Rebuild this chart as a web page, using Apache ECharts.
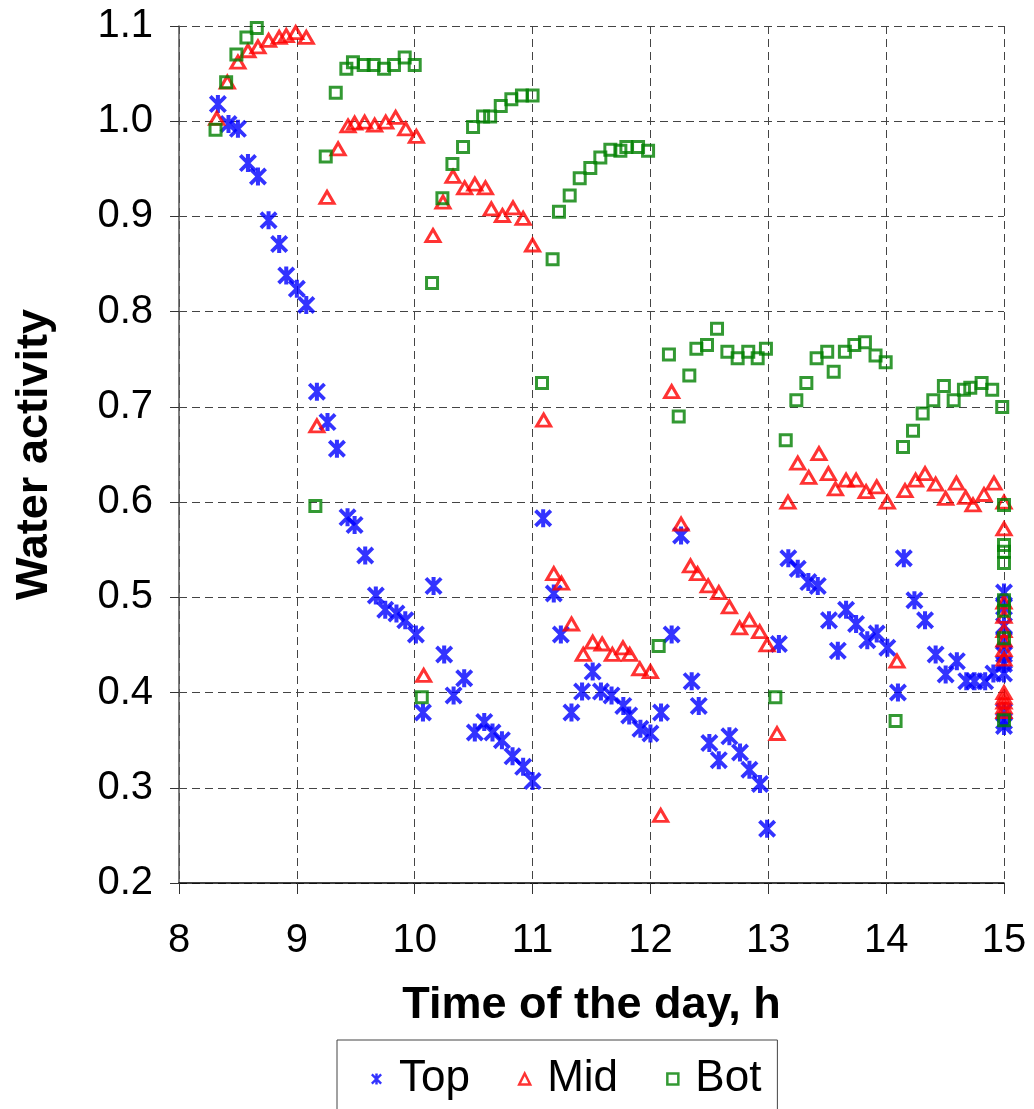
<!DOCTYPE html>
<html>
<head>
<meta charset="utf-8">
<script src="https://cdn.jsdelivr.net/npm/echarts@6/dist/echarts.min.js"></script>
<style>
  html, body { margin: 0; padding: 0; background: #fff; }
  #chart { width: 1034px; height: 1109px; }
</style>
</head>
<body>
<div id="chart"></div>
<script>
// time of the day (h) and water activity for each layer
var topHours = [8.33, 8.42, 8.50, 8.585, 8.67, 8.76, 8.85, 8.91, 9.00, 9.08, 9.17, 9.26, 9.34, 9.43, 9.49, 9.58, 9.67, 9.75, 9.845, 9.92,
  10.01, 10.07, 10.16, 10.25, 10.33, 10.42, 10.51, 10.59, 10.66, 10.74, 10.83, 10.92, 11.00,
  11.09, 11.18, 11.24, 11.33, 11.42, 11.51, 11.58, 11.67, 11.77, 11.82, 11.915, 12.00,
  12.09, 12.18, 12.26, 12.35, 12.41, 12.50, 12.58, 12.67, 12.76, 12.84, 12.93, 12.99,
  13.09, 13.17, 13.25, 13.34, 13.42, 13.515, 13.59, 13.66, 13.745, 13.84, 13.92, 14.01,
  14.10, 14.15, 14.24, 14.33, 14.42, 14.505, 14.60, 14.68, 14.75, 14.84, 14.91,
  15, 15, 15, 15, 15, 15, 15, 15, 15, 15];
var topValues = [1.018, 0.997, 0.992, 0.956, 0.942, 0.896, 0.871, 0.838, 0.824, 0.807, 0.716, 0.684, 0.656, 0.584, 0.576, 0.544, 0.502, 0.487, 0.483, 0.476,
  0.461, 0.379, 0.512, 0.440, 0.397, 0.415, 0.358, 0.369, 0.358, 0.350, 0.333, 0.322, 0.307,
  0.583, 0.504, 0.461, 0.379, 0.401, 0.422, 0.401, 0.397, 0.386, 0.376, 0.362, 0.357,
  0.379, 0.461, 0.565, 0.412, 0.386, 0.347, 0.329, 0.354, 0.337, 0.319, 0.304, 0.257,
  0.451, 0.541, 0.530, 0.516, 0.512, 0.476, 0.444, 0.487, 0.472, 0.455, 0.462, 0.447,
  0.400, 0.541, 0.497, 0.476, 0.440, 0.419, 0.433, 0.412, 0.412, 0.412, 0.420,
  0.505, 0.490, 0.470, 0.455, 0.440, 0.430, 0.420, 0.380, 0.370, 0.365];

var midHours = [8.32, 8.41, 8.50, 8.585, 8.67, 8.76, 8.85, 8.91, 8.99, 9.08, 9.17, 9.256, 9.35, 9.434, 9.49, 9.575, 9.66, 9.754, 9.838, 9.924,
  10.014, 10.076, 10.155, 10.24, 10.325, 10.424, 10.51, 10.60, 10.65, 10.744, 10.834, 10.92, 11.0,
  11.094, 11.18, 11.245, 11.33, 11.43, 11.51, 11.59, 11.677, 11.767, 11.824, 11.91, 12.0,
  12.087, 12.18, 12.26, 12.34, 12.40, 12.49, 12.58, 12.67, 12.757, 12.84, 12.927, 12.99,
  13.074, 13.167, 13.25, 13.343, 13.43, 13.51, 13.57, 13.66, 13.745, 13.83, 13.92, 14.01,
  14.092, 14.16, 14.25, 14.33, 14.42, 14.505, 14.596, 14.675, 14.737, 14.83, 14.915,
  15, 15, 15, 15, 15, 15, 15, 15, 15, 15, 15, 15, 15];
var midValues = [1.003, 1.041, 1.062, 1.074, 1.078, 1.085, 1.088, 1.090, 1.093, 1.088, 0.680, 0.920, 0.971, 0.995, 0.998, 0.999, 0.996, 0.999, 1.004, 0.992,
  0.984, 0.418, 0.880, 0.915, 0.942, 0.930, 0.934, 0.930, 0.908, 0.901, 0.909, 0.898, 0.870,
  0.686, 0.525, 0.515, 0.472, 0.440, 0.453, 0.451, 0.440, 0.447, 0.440, 0.425, 0.422,
  0.271, 0.716, 0.577, 0.533, 0.525, 0.512, 0.505, 0.490, 0.468, 0.476, 0.464, 0.450,
  0.357, 0.600, 0.641, 0.626, 0.651, 0.630, 0.614, 0.623, 0.623, 0.611, 0.616, 0.600,
  0.433, 0.612, 0.623, 0.630, 0.619, 0.604, 0.620, 0.605, 0.597, 0.608, 0.620,
  0.600, 0.572, 0.495, 0.480, 0.465, 0.455, 0.445, 0.435, 0.400, 0.395, 0.390, 0.385, 0.380];

var botHours = [8.31, 8.40, 8.487, 8.572, 8.66, 9.157, 9.245, 9.33, 9.42, 9.476, 9.567, 9.652, 9.74, 9.824, 9.915, 10.0,
  10.06, 10.147, 10.235, 10.32, 10.41, 10.495, 10.58, 10.64, 10.73, 10.82, 10.91, 11.0,
  11.08, 11.17, 11.224, 11.315, 11.40, 11.49, 11.575, 11.66, 11.745, 11.796, 11.895, 11.98,
  12.07, 12.157, 12.24, 12.33, 12.39, 12.48, 12.565, 12.653, 12.74, 12.83, 12.91, 12.98,
  13.06, 13.148, 13.238, 13.323, 13.41, 13.50, 13.555, 13.65, 13.73, 13.82, 13.91, 13.996,
  14.08, 14.143, 14.228, 14.31, 14.40, 14.49, 14.573, 14.66, 14.714, 14.81, 14.90, 14.985,
  15, 15, 15, 15, 15, 15, 15, 15];
var botValues = [0.991, 1.041, 1.070, 1.088, 1.098, 0.596, 0.963, 1.030, 1.055, 1.062, 1.059, 1.059, 1.055, 1.059, 1.067, 1.059,
  0.395, 0.830, 0.919, 0.955, 0.973, 0.994, 1.005, 1.005, 1.016, 1.023, 1.027, 1.027,
  0.725, 0.855, 0.905, 0.922, 0.940, 0.951, 0.962, 0.970, 0.969, 0.973, 0.973, 0.969,
  0.449, 0.755, 0.690, 0.733, 0.761, 0.765, 0.782, 0.758, 0.751, 0.758, 0.751, 0.761,
  0.395, 0.665, 0.707, 0.725, 0.751, 0.758, 0.737, 0.758, 0.765, 0.768, 0.754, 0.747,
  0.370, 0.658, 0.675, 0.693, 0.707, 0.722, 0.707, 0.718, 0.720, 0.725, 0.718, 0.700,
  0.597, 0.555, 0.548, 0.536, 0.497, 0.486, 0.457, 0.371];

var seriesNames = ['Top', 'Mid', 'Bot'];

function pairs(xs, ys) {
  return xs.map(function (x, i) { return [x, ys[i]]; });
}

// asterisk: vertical bar plus an X
var asterisk = 'path://M-1.8,-8 L1.8,-8 L1.8,8 L-1.8,8 Z M-8,-5.6 L-5.6,-8 L8,5.6 L5.6,8 Z M5.6,-8 L8,-5.6 L-5.6,8 L-8,5.6 Z';
var font = '"Liberation Sans", Arial, sans-serif';

var chart = echarts.init(document.getElementById('chart'));
var option = {
  animation: false,
  backgroundColor: '#fff',
  grid: { left: 179, right: 30, top: 26, bottom: 226 },
  legend: {
    data: [
      { name: 'Top', icon: asterisk, itemStyle: { color: '#0000ff', borderWidth: 0 } },
      { name: 'Mid', icon: 'triangle', itemStyle: { color: 'rgba(0,0,0,0)', borderColor: '#ff0000', borderWidth: 2.5 } },
      { name: 'Bot', icon: 'rect', itemStyle: { color: 'rgba(0,0,0,0)', borderColor: '#008000', borderWidth: 2.5 } }
    ],
    left: 337,
    top: 1040,
    itemWidth: 11,
    itemHeight: 11,
    itemGap: 48,
    padding: [17, 16, 40, 34],
    borderColor: '#444',
    borderWidth: 1,
    textStyle: { fontFamily: font, fontSize: 44, color: '#000', padding: [0, 0, 0, 12] }
  },
  xAxis: {
    type: 'value',
    min: 8, max: 15, interval: 1,
    name: 'Time of the day, h',
    nameLocation: 'middle',
    nameGap: 100,
    nameTextStyle: { fontFamily: font, fontSize: 45, fontWeight: 'bold', color: '#000' },
    axisLine: { onZero: false, lineStyle: { color: '#000', width: 1.5 } },
    axisTick: { show: true, inside: false, length: 11, lineStyle: { color: '#333' } },
    axisLabel: { fontFamily: font, fontSize: 40, color: '#000', margin: 38 },
    splitLine: { show: true, lineStyle: { color: '#444', width: 1, type: [8, 5] } }
  },
  yAxis: {
    type: 'value',
    min: 0.2, max: 1.1, interval: 0.1,
    name: 'Water activity',
    nameLocation: 'middle',
    nameGap: 122,
    nameTextStyle: { fontFamily: font, fontSize: 45, fontWeight: 'bold', color: '#000' },
    axisLine: { show: true, lineStyle: { color: '#555', width: 1.5 } },
    axisTick: { show: true, inside: false, length: 9, lineStyle: { color: '#333' } },
    axisLabel: {
      fontFamily: font, fontSize: 40, color: '#000', margin: 26,
      formatter: function (v) { return v.toFixed(1); }
    },
    splitLine: { show: true, lineStyle: { color: '#444', width: 1, type: [8, 5] } }
  },
  series: [
    {
      name: seriesNames[0], type: 'scatter',
      symbol: asterisk, symbolSize: 18,
      itemStyle: { color: '#0000ff' },
      emphasis: { disabled: true },
      data: pairs(topHours, topValues)
    },
    {
      name: seriesNames[1], type: 'scatter',
      symbol: 'triangle', symbolSize: [14, 12],
      itemStyle: { color: 'rgba(0,0,0,0)', borderColor: '#ff0000', borderWidth: 3 },
      emphasis: { disabled: true },
      data: pairs(midHours, midValues)
    },
    {
      name: seriesNames[2], type: 'scatter',
      symbol: 'rect', symbolSize: 11,
      itemStyle: { color: 'rgba(0,0,0,0)', borderColor: '#008000', borderWidth: 3 },
      emphasis: { disabled: true },
      data: pairs(botHours, botValues)
    }
  ]
};
chart.setOption(option);
</script>
</body>
</html>
